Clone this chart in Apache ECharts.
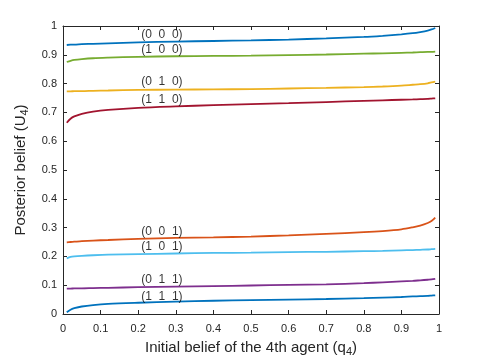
<!DOCTYPE html>
<html>
<head>
    <meta charset="utf-8">
    <title>Posterior belief</title>
    <script src="https://cdn.jsdelivr.net/npm/echarts@6.0.0/dist/echarts.min.js"></script>
</head>
<body style="margin:0">
<div id="main" style="width:485px;height:363px;"></div>
<script type="text/javascript">
// initial belief q4 (shared x grid)
var q = [0.01, 0.02, 0.03, 0.05, 0.08, 0.12, 0.2, 0.3, 0.4, 0.5, 0.6, 0.7, 0.8, 0.85, 0.9, 0.93, 0.95, 0.97, 0.98, 0.99];

var u000 = [0.934, 0.935, 0.935, 0.937, 0.938, 0.940, 0.943, 0.946, 0.948, 0.950, 0.953, 0.957, 0.962, 0.966, 0.971, 0.975, 0.979, 0.984, 0.988, 0.993];
var u100 = [0.875, 0.879, 0.882, 0.885, 0.888, 0.890, 0.893, 0.895, 0.896, 0.897, 0.899, 0.901, 0.904, 0.905, 0.907, 0.908, 0.909, 0.910, 0.910, 0.911];
var u010 = [0.773, 0.773, 0.774, 0.774, 0.775, 0.776, 0.778, 0.779, 0.780, 0.781, 0.783, 0.785, 0.788, 0.790, 0.793, 0.796, 0.798, 0.801, 0.804, 0.807];
var u110 = [0.664, 0.678, 0.686, 0.695, 0.703, 0.709, 0.716, 0.721, 0.725, 0.729, 0.732, 0.736, 0.740, 0.742, 0.744, 0.745, 0.746, 0.747, 0.748, 0.749];
var u001 = [0.249, 0.250, 0.251, 0.253, 0.255, 0.257, 0.261, 0.264, 0.266, 0.269, 0.273, 0.278, 0.284, 0.288, 0.294, 0.301, 0.307, 0.316, 0.323, 0.335];
var u101 = [0.193, 0.198, 0.200, 0.202, 0.204, 0.206, 0.208, 0.210, 0.212, 0.213, 0.215, 0.216, 0.218, 0.219, 0.221, 0.222, 0.223, 0.224, 0.225, 0.226];
var u011 = [0.088, 0.088, 0.089, 0.089, 0.090, 0.091, 0.093, 0.095, 0.097, 0.099, 0.101, 0.103, 0.107, 0.110, 0.113, 0.115, 0.117, 0.119, 0.120, 0.122];
var u111 = [0.006, 0.015, 0.020, 0.026, 0.031, 0.035, 0.039, 0.043, 0.046, 0.048, 0.050, 0.052, 0.055, 0.057, 0.059, 0.061, 0.062, 0.063, 0.064, 0.065];

var seriesNames = ['(0  0  0)', '(1  0  0)', '(0  1  0)', '(1  1  0)', '(0  0  1)', '(1  0  1)', '(0  1  1)', '(1  1  1)'];
var seriesValues = [u000, u100, u010, u110, u001, u101, u011, u111];
var colors = ['#0072BD', '#77AC30', '#EDB120', '#A2142F', '#D95319', '#4DBEEE', '#7E2F8E', '#0072BD'];

// where the text tags sit
var labelX = 0.263;
var labelY = [0.970, 0.919, 0.807, 0.743, 0.286, 0.234, 0.120, 0.060];

var xTicks = [0, 0.1, 0.2, 0.3, 0.4, 0.5, 0.6, 0.7, 0.8, 0.9, 1];

var axisColor = '#262626';
var font = 'Liberation Sans';

var myChart = echarts.init(document.getElementById('main'));

var series = seriesValues.map(function (vals, i) {
    return {
        type: 'line',
        name: seriesNames[i],
        data: q.map(function (x, j) { return [x, vals[j]]; }),
        showSymbol: false,
        smooth: 0.3,
        lineStyle: { color: colors[i], width: 1.8 },
        itemStyle: { color: colors[i] },
        z: 3
    };
});

series.push({
    type: 'scatter',
    symbolSize: 0,
    silent: true,
    data: labelY.map(function (y, i) { return { value: [labelX, y], name: seriesNames[i] }; }),
    label: {
        show: true,
        position: 'inside',
        formatter: function (p) { return p.name; },
        fontFamily: font,
        fontSize: 12,
        color: '#000'
    },
    z: 5
});

function makeX(pos, showLabel) {
    return {
        type: 'value',
        position: pos,
        min: 0, max: 1, interval: 0.1,
        name: showLabel ? 'Initial belief of the 4th agent (q{sub|4})' : '',
        nameLocation: 'middle',
        nameGap: 24,
        nameTextStyle: {
            fontFamily: font, fontSize: 15, color: axisColor,
            rich: { sub: { fontFamily: font, fontSize: 11, color: axisColor, verticalAlign: 'bottom', padding: [8, 0, 0, 0] } }
        },
        axisLine: { show: true, onZero: false, lineStyle: { color: axisColor, width: 1 } },
        axisTick: { show: true, inside: true, length: 4, lineStyle: { color: axisColor } },
        axisLabel: {
            show: showLabel, margin: 9, fontFamily: font, fontSize: 11, color: axisColor,
            formatter: function (v) { return xTicks.indexOf(Math.round(v * 10) / 10) >= 0 ? String(Math.round(v * 10) / 10) : ''; }
        },
        splitLine: { show: false }
    };
}

function makeY(pos, showLabel) {
    return {
        type: 'value',
        position: pos,
        min: 0, max: 1, interval: 0.1,
        name: showLabel ? 'Posterior belief (U{sub|4})' : '',
        nameLocation: 'middle',
        nameGap: 30,
        nameTextStyle: {
            fontFamily: font, fontSize: 15, color: axisColor,
            rich: { sub: { fontFamily: font, fontSize: 11, color: axisColor, verticalAlign: 'bottom', padding: [8, 0, 0, 0] } }
        },
        axisLine: { show: true, onZero: false, lineStyle: { color: axisColor, width: 1 } },
        axisTick: { show: true, inside: true, length: 4, lineStyle: { color: axisColor } },
        axisLabel: {
            show: showLabel, margin: 6, fontFamily: font, fontSize: 11, color: axisColor,
            formatter: function (v) { return String(Math.round(v * 10) / 10); }
        },
        splitLine: { show: false }
    };
}

var option = {
    backgroundColor: '#fff',
    animation: false,
    grid: { left: 63, right: 46, top: 26, bottom: 49, containLabel: false },
    xAxis: [makeX('bottom', true), makeX('top', false)],
    yAxis: [makeY('left', true), makeY('right', false)],
    series: series
};

myChart.setOption(option);
</script>
</body>
</html>
